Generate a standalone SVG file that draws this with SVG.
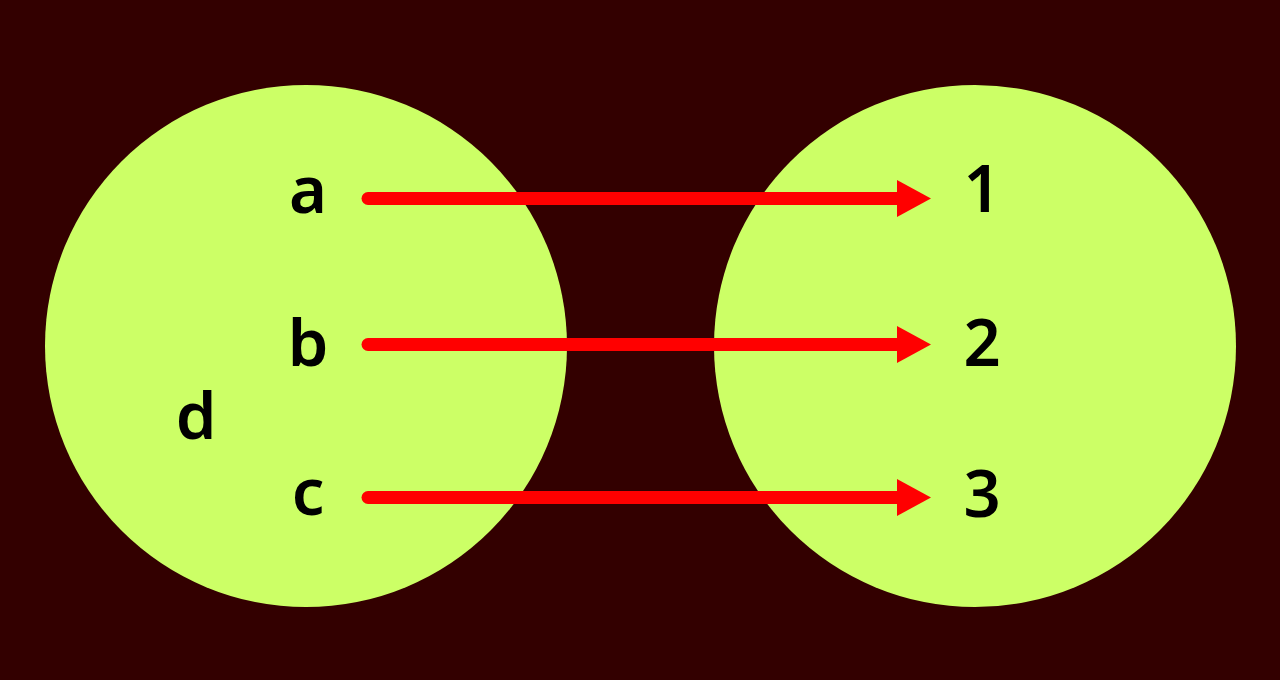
<svg xmlns="http://www.w3.org/2000/svg" width="1280" height="680" viewBox="0 0 1280 680">
<defs>
<style>
.set{fill:#ccff66}
.lbl{font-family:"Noto Sans","Open Sans",sans-serif;font-size:65px;fill:#000;text-anchor:middle;font-weight:600}
.arr{stroke:#ff0000;stroke-width:13;stroke-linecap:round;fill:none}
.head{fill:#ff0000}
</style>
</defs>
<rect width="1280" height="680" fill="#330000"/>
<g id="setA"><circle class="set" cx="306" cy="346" r="261"/></g>
<g id="setB"><circle class="set" cx="975" cy="346" r="261"/></g>
<g id="connectors">
<line class="arr" x1="368" y1="198.5" x2="900" y2="198.5"/>
<polygon class="head" points="897,180 931,198.5 897,217"/>
<line class="arr" x1="368" y1="344.5" x2="900" y2="344.5"/>
<polygon class="head" points="897,326 931,344.5 897,363"/>
<line class="arr" x1="368" y1="497.5" x2="900" y2="497.5"/>
<polygon class="head" points="897,479 931,497.5 897,516"/>
</g>
<g id="node-a"><text class="lbl" x="308" y="213">a</text></g>
<g id="node-b"><text class="lbl" x="308" y="366">b</text></g>
<g id="node-c"><text class="lbl" x="308" y="515">c</text></g>
<g id="node-d"><text class="lbl" x="196" y="439">d</text></g>
<g id="node-1"><text class="lbl" x="982" y="212">1</text></g>
<g id="node-2"><text class="lbl" x="982" y="366">2</text></g>
<g id="node-3"><text class="lbl" x="982" y="517">3</text></g>
</svg>
